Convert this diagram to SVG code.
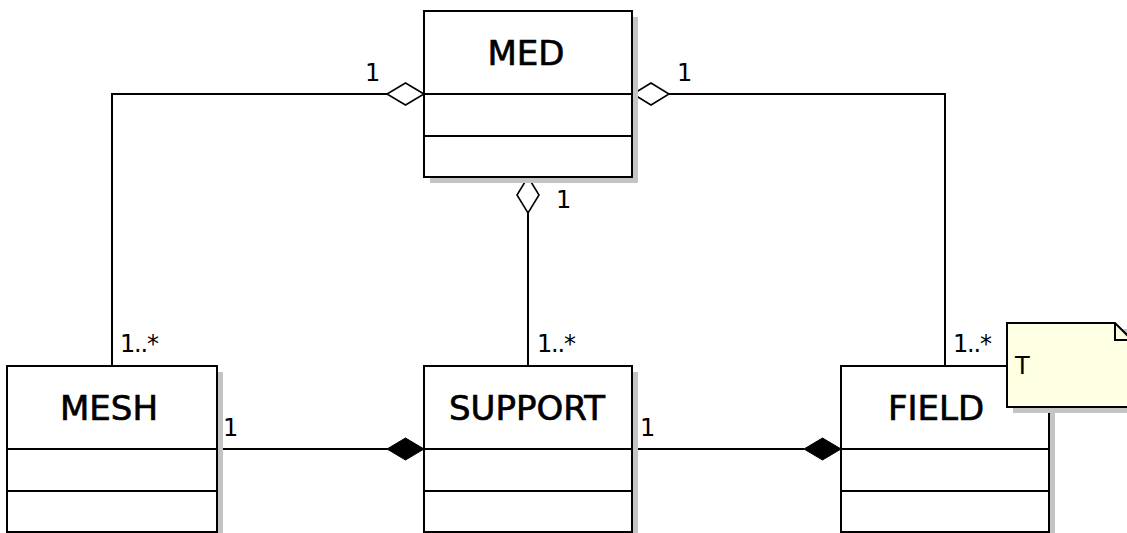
<svg xmlns="http://www.w3.org/2000/svg" width="1127" height="533" viewBox="0 0 1127 533">
<style>
.box{fill:#fff;stroke:#000;stroke-width:2}
.shadow{fill:#c4c4c4}
.div{stroke:#000;stroke-width:2}
.title{font-family:"DejaVu Sans",sans-serif;font-size:34px;fill:#000;stroke:#000;stroke-width:0.7;text-anchor:middle}
.lbl{font-family:"DejaVu Sans",sans-serif;font-size:24px;fill:#000}
.mult{letter-spacing:-1.2px}
.conn{fill:none;stroke:#000;stroke-width:2}
.agg{fill:#fff;stroke:#000;stroke-width:1.6}
.comp{fill:#000;stroke:#000;stroke-width:1}
.note{fill:#ffffe3;stroke:#000;stroke-width:2}
</style>
<rect width="1127" height="533" fill="#fff"/>
<g id="connectors">
  <polyline class="conn" points="112,366 112,94 387,94"/>
  <polygon class="agg" points="424,94 405.5,83 387,94 405.5,105"/>
  <polyline class="conn" points="945,366 945,94 669,94"/>
  <polygon class="agg" points="633,94 651,83 669,94 651,105"/>
  <line class="conn" x1="528" y1="366" x2="528" y2="213"/>
  <polygon class="agg" points="528,177 539,195 528,213 517,195"/>
  <line class="conn" x1="217" y1="449" x2="388" y2="449"/>
  <polygon class="comp" points="424,449 405.5,438 387,449 405.5,460"/>
  <line class="conn" x1="633" y1="449" x2="804" y2="449"/>
  <polygon class="comp" points="841,449 822.5,438 804,449 822.5,460"/>
  <text class="lbl" x="365" y="81">1</text>
  <text class="lbl" x="677" y="81">1</text>
  <text class="lbl" x="556" y="208">1</text>
  <text class="lbl mult" x="120" y="352">1..*</text>
  <text class="lbl mult" x="537" y="352">1..*</text>
  <text class="lbl mult" x="953" y="352">1..*</text>
  <text class="lbl" x="223" y="436">1</text>
  <text class="lbl" x="640" y="436">1</text>
</g>
<g id="MED">
  <rect class="shadow" x="430" y="17" width="208" height="166"/>
  <rect class="box" x="424" y="11" width="208" height="166"/>
  <line class="div" x1="424" y1="94" x2="632" y2="94"/>
  <line class="div" x1="424" y1="136" x2="632" y2="136"/>
  <text class="title" x="526" y="65">MED</text>
</g>
<g id="MESH">
  <rect class="shadow" x="13" y="372" width="210" height="166"/>
  <rect class="box" x="7" y="366" width="210" height="166"/>
  <line class="div" x1="7" y1="449" x2="217" y2="449"/>
  <line class="div" x1="7" y1="491" x2="217" y2="491"/>
  <text class="title" x="109" y="420">MESH</text>
</g>
<g id="SUPPORT">
  <rect class="shadow" x="430" y="372" width="208" height="166"/>
  <rect class="box" x="424" y="366" width="208" height="166"/>
  <line class="div" x1="424" y1="449" x2="632" y2="449"/>
  <line class="div" x1="424" y1="491" x2="632" y2="491"/>
  <text class="title" x="527" y="420">SUPPORT</text>
</g>
<g id="FIELD">
  <rect class="shadow" x="847" y="372" width="208" height="166"/>
  <rect class="box" x="841" y="366" width="208" height="166"/>
  <line class="div" x1="841" y1="449" x2="1049" y2="449"/>
  <line class="div" x1="841" y1="491" x2="1049" y2="491"/>
  <text class="title" x="936" y="420">FIELD</text>
</g>
<g id="note">
  <rect class="shadow" x="1013" y="329" width="125" height="84"/>
  <path class="note" d="M1007,323 H1115 L1132,340 V407 H1007 Z"/>
  <path fill="none" stroke="#000" stroke-width="2" d="M1115,323 V340 H1132"/>
  <text class="lbl" x="1015" y="374">T</text>
</g>
</svg>
